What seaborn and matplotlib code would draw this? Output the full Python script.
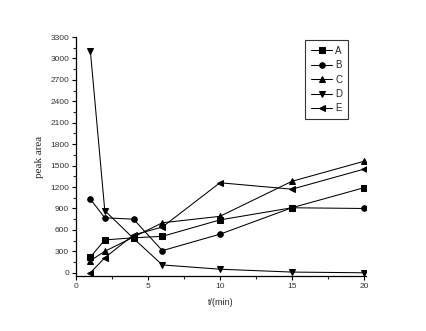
import matplotlib
matplotlib.use("Agg")
import matplotlib.pyplot as plt
import seaborn as sns
import pandas as pd
from matplotlib.ticker import MultipleLocator

t = [1, 2, 4, 6, 10, 15, 20]
A = [220, 460, 490, 510, 740, 910, 1190]
B = [1030, 770, 750, 310, 540, 910, 900]
C = [170, 300, 500, 700, 790, 1280, 1560]
D = [3100, 870, 480, 110, 50, 10, 0]
E = [0, 210, 530, 640, 1260, 1170, 1450]
series = {"A": A, "B": B, "C": C, "D": D, "E": E}

rows = []
for name, vals in series.items():
    for x, y in zip(t, vals):
        rows.append({"t": x, "area": y, "s": name})
df = pd.DataFrame(rows)

sns.set_style("ticks")
plt.rcParams['font.family'] = ['Liberation Sans', 'DejaVu Sans']

fig = plt.figure(figsize=(4.27, 3.31), dpi=100)
ax = fig.add_axes([76/427, 1-276/331, (366-76)/427, (276-37)/331])

markers = {"A": "s", "B": "o", "C": "^", "D": "v", "E": "<"}
sns.lineplot(data=df, x="t", y="area", style="s", markers=markers, dashes=False,
             color="black", linewidth=0.75, markersize=4, markeredgecolor="black",
             ax=ax, legend=True)

ax.set_xlim(0, 20.15)
ax.set_ylim(-45, 3300)
ax.xaxis.set_major_locator(MultipleLocator(5))
ax.xaxis.set_minor_locator(MultipleLocator(2.5))
ax.yaxis.set_major_locator(MultipleLocator(300))
ax.yaxis.set_minor_locator(MultipleLocator(150))
ax.tick_params(which="major", length=3, width=0.8, labelsize=6, colors="black", labelcolor="#333333", direction="out", pad=2)
ax.tick_params(which="minor", length=2, width=0.8, direction="out")
for sp in ["top", "right"]:
    ax.spines[sp].set_visible(False)
for sp in ["left", "bottom"]:
    ax.spines[sp].set_linewidth(0.9)
    ax.spines[sp].set_color("black")

ax.set_xlabel("t/(min)", fontsize=6.5, labelpad=6)
ax.set_ylabel("peak area", fontsize=8, family=["Liberation Serif", "DejaVu Serif"], labelpad=4)

leg = ax.legend(loc="upper left", bbox_to_anchor=((305-76)/290, 1-(40-37)/239),
                fontsize=7, frameon=True, fancybox=False, edgecolor="black",
                handlelength=2.2, borderpad=0.6, labelspacing=0.45, handletextpad=0.3,
                borderaxespad=0)
leg.get_frame().set_linewidth(0.8)

fig.savefig("out.png", dpi=100, facecolor="white")
